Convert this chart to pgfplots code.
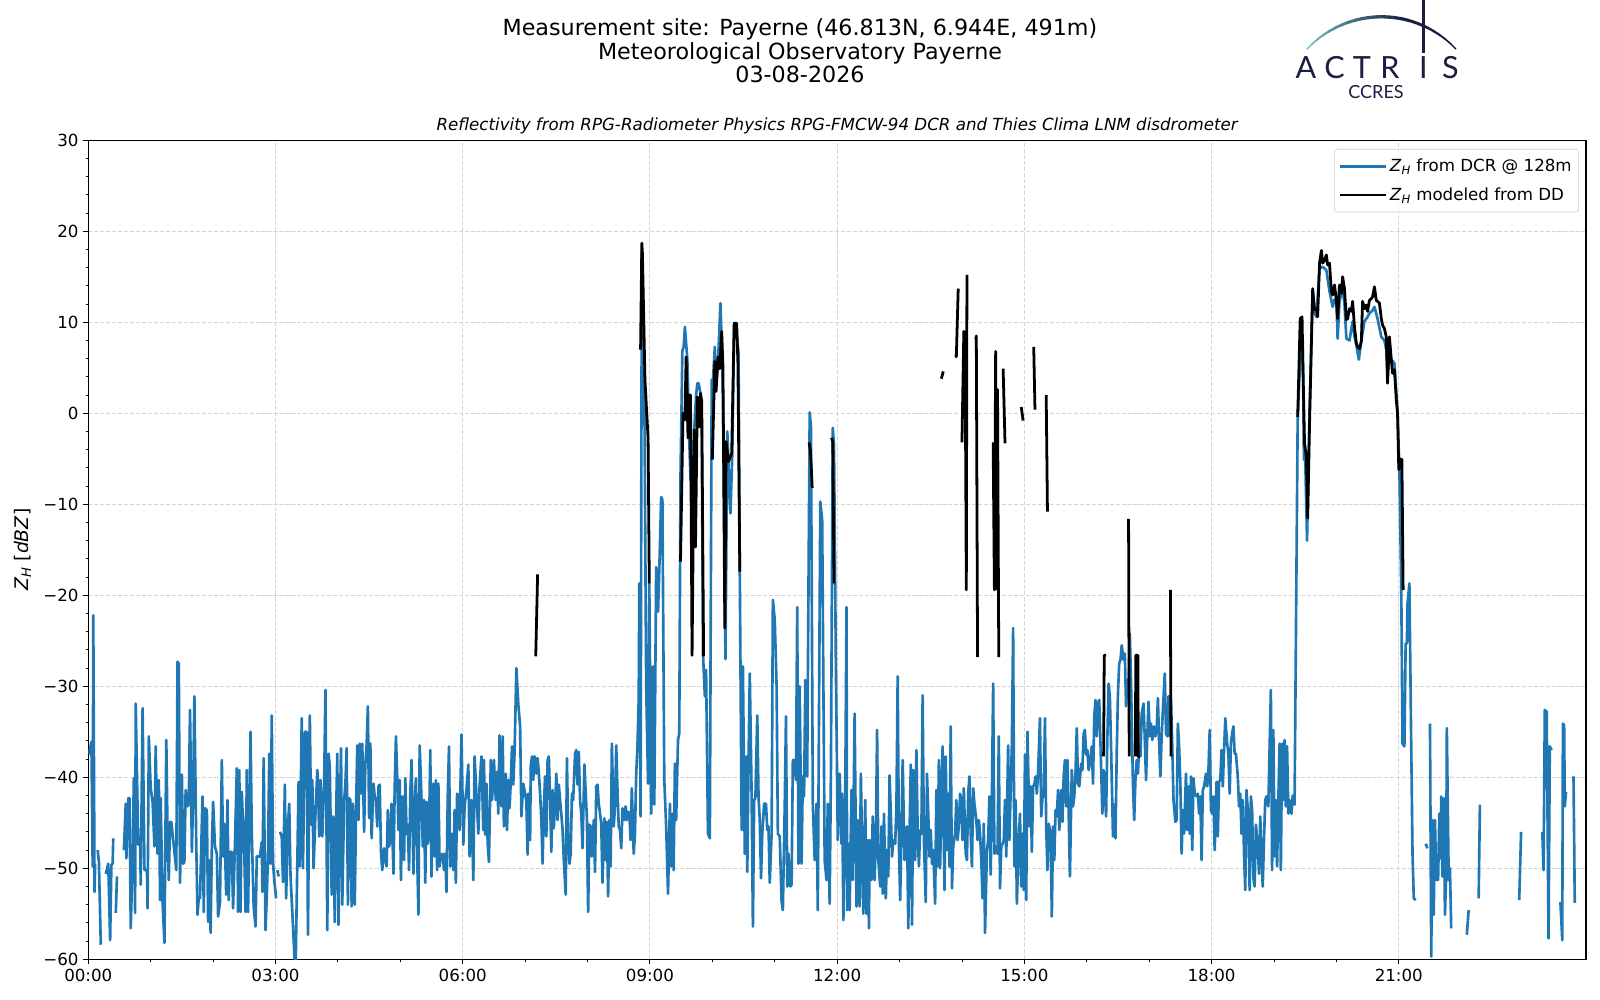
\documentclass[border=0pt]{standalone}
\usepackage{fontspec}
\setmainfont{DejaVu Sans}
\newfontfamily\logofont{Lato}
\usepackage{pgfplots}
\pgfplotsset{compat=1.18}
\definecolor{mplblue}{HTML}{1F77B4}
\definecolor{gridgray}{HTML}{D6D6D6}
\definecolor{logonavy}{HTML}{1B1D42}
\definecolor{logoteal}{HTML}{6CC3BC}
\begin{document}
\begin{tikzpicture}
\useasboundingbox (0,0) rectangle (16in,10in);
% titles
\node[align=center, font=\fontsize{16bp}{16.8bp}\selectfont] at (8in,9.49in)
 {Measurement site: Payerne (46.813N, 6.944E, 491m)\\Meteorological Observatory Payerne\\03-08-2026};
\node[font=\itshape\fontsize{12bp}{14bp}\selectfont] at (8.372in,8.743in)
 {Reflectivity from RPG-Radiometer Physics RPG-FMCW-94 DCR and Thies Clima LNM disdrometer};
% logo
\foreach \i in {0,...,23}{
  \pgfmathsetmacro\aa{137-\i*3.9}
  \pgfmathsetmacro\ab{\aa-4.2}
  \pgfmathsetmacro\mix{max(0,100-\i*100/15)}
  \pgfmathsetmacro\lw{0.9+1.5*sin(180*(\i+0.5)/24)}
  \draw[color=logoteal!\mix!logonavy, line width=\lw bp] (13.815in,8.812in) ++(\aa:1.02in) arc[start angle=\aa, end angle=\ab, radius=1.02in];
}
\draw[logonavy, line width=1.8bp] (14.233in,10in) -- (14.233in,9.47in);
\foreach \xx/\ll in {13.06/A,13.345/C,13.62/T,13.90/R,14.233/I,14.505/S}{
  \node[anchor=base, inner sep=0pt, text=logonavy, font=\logofont\fontsize{22bp}{22bp}\selectfont] at (\xx in,9.217in) {\ll};
}
\node[anchor=base, inner sep=0pt, text=logonavy, font=\logofont\fontsize{13bp}{13bp}\selectfont] at (13.76in,9.01in) {CCRES};
\begin{axis}[
  at={(0.883in,0.407in)}, anchor=south west,
  scale only axis, width=14.977in, height=8.19in,
  xmin=0, xmax=24, ymin=-60, ymax=30,
  axis line style={line width=0.8bp},
  tick align=outside, tick pos=left,
  major tick length=3.5bp, minor tick length=2bp,
  every tick/.style={black, line width=0.8bp},
  minor tick style={black, line width=0.6bp},
  xtick={0,3,6,9,12,15,18,21},
  xticklabels={00:00,03:00,06:00,09:00,12:00,15:00,18:00,21:00},
  minor x tick num=2,
  ytick={-60,-50,-40,-30,-20,-10,0,10,20,30},
  yticklabels={−60,−50,−40,−30,−20,−10,0,10,20,30},
  minor y tick num=4,
  grid=major,
  major grid style={gridgray, dash pattern=on 3bp off 1.3bp, line width=0.8bp},
  tick label style={font=\fontsize{12bp}{14bp}\selectfont},
  ylabel={\textit{Z}\textsubscript{\textit{H}} [\textit{dBZ}]},
  ylabel style={at={(axis description cs:-0.044,0.5)}, anchor=center, font=\fontsize{13.5bp}{15bp}\selectfont},
  legend style={at={(0.9953,0.9894)}, anchor=north east, draw=black!20, rounded corners=2bp,
     font=\fontsize{12bp}{14bp}\selectfont, fill=white, fill opacity=0.8, text opacity=1,
     row sep=6bp, inner xsep=3bp, inner ysep=5bp},
  legend cell align=left,
  legend image code/.code={\draw[#1] (0bp,0bp) -- (28bp,0bp); \path (0bp,0bp) -- (33bp,0bp);},
  unbounded coords=jump,
]
\addplot[mplblue, line width=1.9bp, line join=round] coordinates {
(0.01,-37.5)(0.05,-36.1)(0.07,-49.8)(0.08,-22.2)(0.10,-52.6)(0.11,-49.5)(0.13,nan)
(0.15,-48.0)(0.17,-49.3)(0.20,-58.4)(0.24,nan)
(0.28,-50.6)(0.32,-49.5)(0.35,-57.9)(0.37,-49.6)(0.39,-49.5)(0.40,-46.7)(0.42,nan)
(0.44,-54.9)(0.46,-50.9)(0.50,nan)
(0.57,-48.0)(0.60,-42.9)(0.61,-48.9)(0.64,-42.3)(0.66,-42.3)(0.68,-56.6)(0.71,-48.9)(0.73,-40.1)(0.75,-54.9)(0.76,-31.9)(0.80,-47.4)(0.83,-46.5)(0.84,-51.8)(0.87,-32.4)(0.90,-50.2)(0.94,-50.2)(0.95,-54.4)(0.97,-35.5)(1.00,-41.2)(1.03,-42.7)(1.06,-47.6)(1.08,-36.6)(1.11,-48.4)(1.13,-40.3)(1.15,-53.5)(1.16,-42.3)(1.19,-53.7)(1.22,-58.2)(1.25,-35.9)(1.27,-46.2)(1.29,-51.3)(1.31,-44.9)(1.33,-44.9)(1.41,-50.2)(1.43,-27.3)(1.45,-27.5)(1.47,-51.6)(1.50,-39.7)(1.52,-49.5)(1.54,-49.3)(1.56,-41.4)(1.59,-43.2)(1.61,-42.9)(1.63,-32.6)(1.66,-48.2)(1.68,-41.8)(1.70,-31.1)(1.73,-47.3)(1.75,-55.1)(1.77,-53.3)(1.79,-53.3)(1.83,-42.1)(1.85,-54.8)(1.87,-43.4)(1.90,-43.6)(1.92,-55.9)(1.94,-49.1)(1.96,-57.1)(1.98,-47.6)(2.00,-42.7)(2.03,-47.6)(2.06,-48.4)(2.08,-55.3)(2.11,-53.7)(2.14,-38.1)(2.16,-48.7)(2.18,-45.1)(2.21,-52.9)(2.23,-42.5)(2.25,-53.5)(2.27,-48.2)(2.30,-48.2)(2.32,-54.4)(2.35,-47.4)(2.38,-39.0)(2.40,-54.8)(2.42,-39.2)(2.44,-54.8)(2.46,-41.6)(2.47,-43.4)(2.49,-45.1)(2.52,-54.8)(2.54,-39.2)(2.56,-54.8)(2.58,-45.4)(2.60,-35.0)(2.62,-46.2)(2.65,-54.2)(2.68,-56.4)(2.70,-48.7)(2.72,-48.7)(2.75,-48.7)(2.78,-47.1)(2.79,-52.6)(2.81,-37.9)(2.84,-56.8)(2.86,-53.1)(2.88,-48.5)(2.90,-37.4)(2.92,-49.5)(2.94,-33.2)(2.96,-49.3)(2.98,-51.3)(3.01,-53.3)(3.02,nan)(3.03,-50.2)(3.05,-50.9)(3.06,nan)
(3.07,-46.0)(3.10,-46.5)(3.12,-51.5)(3.15,-40.8)(3.17,-53.3)(3.20,-45.1)(3.22,-42.9)(3.24,-50.7)(3.32,-62.0)(3.37,-40.5)(3.39,-49.8)(3.42,-33.5)(3.44,-50.0)(3.47,-35.0)(3.50,-35.0)(3.52,-57.3)(3.55,-33.2)(3.57,-45.2)(3.59,-40.3)(3.61,-50.0)(3.64,-44.0)(3.67,-39.2)(3.68,-40.3)(3.70,-46.5)(3.72,-40.3)(3.75,-46.5)(3.78,-40.3)(3.80,-30.4)(3.83,-56.8)(3.85,-37.4)(3.87,-38.8)(3.90,-52.9)(3.92,-44.3)(3.95,-55.9)(3.97,-44.5)(3.99,-37.4)(4.01,-56.2)(4.03,-44.5)(4.05,-36.8)(4.07,-54.0)(4.10,-42.5)(4.12,-40.7)(4.14,-36.8)(4.16,-54.0)(4.18,-42.3)(4.20,-42.5)(4.22,-54.2)(4.24,-42.9)(4.27,-54.0)(4.29,-44.0)(4.31,-36.5)(4.33,-44.7)(4.35,-36.3)(4.37,-41.8)(4.39,-36.3)(4.42,-46.0)(4.44,-38.5)(4.46,-36.5)(4.48,-32.2)(4.50,-44.5)(4.52,-36.3)(4.54,-46.7)(4.57,-40.7)(4.59,-42.1)(4.61,-42.5)(4.63,-45.4)(4.65,-41.0)(4.67,-40.8)(4.69,-48.2)(4.71,-50.2)(4.74,-47.8)(4.76,-49.1)(4.78,-49.8)(4.80,-43.6)(4.82,-47.6)(4.84,-46.9)(4.86,-42.9)(4.89,-50.6)(4.91,-41.0)(4.93,-35.5)(4.95,-39.9)(4.97,-45.8)(4.99,-40.3)(5.01,-51.3)(5.03,-42.1)(5.06,-49.1)(5.08,-40.1)(5.10,-46.2)(5.12,-45.2)(5.14,-50.2)(5.16,-41.8)(5.18,-38.1)(5.21,-50.6)(5.23,-42.9)(5.25,-40.1)(5.27,-48.4)(5.29,-55.1)(5.31,-36.5)(5.33,-40.3)(5.36,-47.6)(5.38,-42.5)(5.40,-51.6)(5.42,-42.7)(5.44,-47.3)(5.46,-46.2)(5.48,-37.0)(5.50,-50.9)(5.53,-40.7)(5.55,-48.7)(5.57,-40.3)(5.59,-50.2)(5.61,-40.7)(5.63,-49.8)(5.65,-48.7)(5.68,-48.4)(5.70,-50.2)(5.72,-48.4)(5.74,-52.6)(5.76,-42.1)(5.78,-36.6)(5.80,-49.8)(5.83,-46.2)(5.85,-50.2)(5.87,-43.6)(5.89,-51.6)(5.91,-41.8)(5.93,-42.1)(5.95,-45.8)(5.98,-35.3)(6.01,-47.4)(6.03,-43.2)(6.06,-41.4)(6.09,-38.6)(6.11,-48.7)(6.14,-42.5)(6.17,-51.3)(6.19,-37.7)(6.22,-41.9)(6.25,-46.2)
(6.27,-41.0)(6.30,-37.7)(6.33,-45.8)(6.34,-38.1)(6.36,-46.3)(6.38,-40.7)(6.40,-47.3)(6.42,-49.3)(6.45,-38.1)(6.47,-42.5)(6.50,-38.1)(6.53,-42.5)(6.55,-39.4)(6.57,-44.0)(6.59,-35.4)(6.62,-43.2)(6.64,-35.5)(6.66,-45.4)(6.69,-39.6)(6.71,-45.8)(6.73,-40.3)(6.75,-43.4)(6.77,-40.5)(6.79,-36.6)(6.81,-40.8)(6.83,-37.4)(6.86,-28.0)(6.89,-31.9)(6.92,-34.4)(6.94,-44.3)(6.97,-40.7)(7.00,-41.8)(7.02,-42.7)(7.04,-48.5)(7.05,-41.8)(7.08,-46.9)(7.09,-38.8)(7.11,-37.7)(7.13,-40.3)(7.15,-37.7)(7.17,-38.1)(7.18,-39.6)(7.20,-37.9)(7.22,-39.6)(7.24,-41.8)(7.26,-44.7)(7.28,-49.5)(7.30,-43.2)(7.32,-39.9)(7.34,-46.5)(7.36,-38.1)(7.38,-37.7)(7.40,-42.5)(7.42,-48.2)(7.44,-41.4)(7.46,-45.6)(7.49,-41.4)(7.50,-39.6)(7.52,-44.7)(7.54,-40.8)(7.56,-42.5)(7.58,-44.0)(7.60,-45.8)(7.62,-49.1)(7.65,-52.9)(7.67,-37.9)(7.69,-46.2)(7.71,-49.5)(7.73,-48.4)(7.75,-41.8)(7.77,-42.5)(7.80,-37.4)(7.82,-37.0)(7.84,-40.8)(7.86,-37.2)(7.88,-42.5)(7.90,-44.0)(7.92,-47.8)(7.95,-38.6)(7.97,-41.6)(7.99,-44.5)(8.01,-54.8)(8.03,-45.2)(8.05,-45.4)(8.07,-48.7)(8.10,-44.7)(8.12,-50.4)(8.14,-41.0)(8.16,-40.8)(8.18,-42.9)(8.20,-44.0)(8.22,-45.1)(8.24,-51.6)(8.27,-44.5)(8.29,-49.1)(8.31,-44.9)(8.33,-53.1)(8.35,-44.7)(8.37,-49.8)(8.39,-36.3)(8.42,-45.4)(8.44,-43.2)(8.46,-36.5)(8.48,-41.4)(8.50,-45.4)(8.52,-45.8)(8.54,-47.8)(8.56,-43.4)(8.59,-44.7)(8.61,-43.2)(8.63,-44.7)(8.65,-43.8)(8.67,-44.0)(8.69,-46.9)(8.71,-41.2)(8.74,-48.4)(8.76,-46.2)(8.78,-39.6)
(8.80,-36.6)(8.82,-31.5)(8.83,-18.7)(8.85,-44.3)(8.87,17.9)(8.89,5.9)(8.91,3.0)(8.94,-30.0)(8.97,-40.7)(8.99,-18.7)(9.02,-44.0)(9.05,-27.8)(9.07,-43.0)(9.10,-16.9)(9.13,-21.8)(9.15,-17.2)(9.18,-9.2)(9.20,-9.5)(9.23,-40.3)(9.26,-45.4)(9.29,-52.8)(9.32,-42.9)(9.34,-49.8)(9.36,-44.0)(9.38,-50.2)(9.40,-38.5)(9.42,-44.7)(9.45,-35.9)(9.47,-35.2)(9.49,-6.8)(9.52,6.9)(9.54,7.3)(9.56,9.5)(9.60,5.9)(9.63,-2.9)(9.65,-7.3)(9.67,-7.7)(9.69,-10.0)(9.71,-1.8)(9.74,2.0)(9.76,3.3)(9.78,3.3)(9.81,2.2)(9.83,-0.7)(9.85,-26.4)(9.88,-31.1)(9.90,-28.2)(9.93,-46.2)(9.96,-46.7)(9.99,3.7)(10.01,3.7)(10.04,7.3)(10.06,2.9)(10.09,5.5)(10.13,12.1)(10.16,5.5)(10.18,-2.9)(10.21,-27.0)(10.24,-2.0)(10.27,-7.7)(10.29,-11.0)(10.32,-4.4)(10.35,9.9)(10.38,9.5)(10.42,6.6)(10.44,-17.6)
(10.47,-45.8)(10.49,-27.8)(10.52,-48.4)(10.55,-37.7)(10.56,-50.4)(10.58,-38.1)(10.60,-28.6)(10.63,-42.1)(10.65,-56.4)(10.67,-42.5)(10.69,-42.3)(10.72,-33.2)(10.74,-42.1)(10.76,-44.7)(10.78,-51.1)(10.80,-46.2)(10.83,-42.9)(10.86,-42.9)(10.88,-45.8)(10.90,-45.4)(10.92,-51.6)(10.95,-46.2)(10.97,-20.5)(11.00,-22.7)(11.03,-30.0)(11.05,-46.2)(11.08,-46.5)(11.11,-53.7)(11.13,-54.6)(11.16,-43.2)(11.18,-33.3)(11.20,-52.0)(11.22,-48.4)(11.25,-52.0)(11.27,-51.8)(11.29,-38.1)(11.31,-38.1)(11.34,-40.3)(11.36,-21.3)(11.38,-49.5)(11.40,-30.0)(11.43,-49.5)(11.45,-39.9)(11.47,-42.1)(11.49,-29.3)(11.52,-39.9)(11.56,0.1)(11.58,-1.5)(11.61,-42.9)(11.64,-49.1)(11.67,-42.9)(11.69,-54.6)(11.73,-9.7)(11.76,-11.7)(11.80,-49.1)(11.83,-51.3)(11.85,-42.9)(11.88,-53.9)(11.90,-39.6)(11.93,-1.6)(11.95,-3.5)(11.98,-28.0)(12.01,-46.9)(12.04,-39.6)(12.07,-47.3)(12.08,-41.8)(12.10,-55.7)(12.13,-41.8)(12.15,-21.3)(12.16,-54.6)(12.19,-47.3)(12.20,-54.6)(12.23,-41.4)(12.25,-51.3)(12.28,-33.0)(12.31,-54.2)(12.33,-44.7)(12.36,-54.2)(12.38,-39.6)(12.40,-47.6)(12.42,-55.0)(12.45,-42.5)(12.47,-55.0)(12.49,-46.9)(12.51,-56.6)(12.52,-46.9)(12.55,-51.3)(12.57,-44.3)(12.60,-51.3)(12.62,-46.9)(12.64,-34.8)(12.66,-49.1)(12.69,-52.0)(12.71,-45.4)(12.73,-52.8)(12.75,-44.0)(12.78,-53.3)(12.80,-48.0)(12.82,-50.9)
(12.84,-39.8)(12.86,-44.0)(12.88,-48.7)(12.90,-46.9)(12.93,-47.3)(12.95,-43.2)(12.97,-28.9)(12.99,-47.6)(13.01,-53.5)(13.03,-46.2)(13.05,-38.1)(13.08,-49.1)(13.10,-45.8)(13.12,-45.4)(13.14,-56.6)(13.16,-46.2)(13.18,-38.6)(13.20,-56.2)(13.22,-39.2)(13.25,-49.1)(13.27,-37.0)(13.29,-45.8)(13.31,-49.8)(13.33,-45.8)(13.35,-46.2)(13.37,-31.0)(13.39,-46.9)(13.42,-53.7)(13.44,-39.6)(13.46,-44.0)(13.48,-48.7)(13.50,-45.8)(13.52,-49.5)(13.54,-48.0)(13.57,-53.9)(13.59,-41.4)(13.61,-49.8)(13.63,-38.1)(13.65,-50.0)(13.67,-42.5)(13.69,-36.6)(13.72,-52.4)(13.74,-37.7)(13.76,-48.0)(13.78,-41.8)(13.80,-49.8)(13.82,-34.4)(13.84,-52.2)(13.86,-47.6)(13.89,-46.2)(13.91,-42.5)(13.93,-46.9)(13.95,-45.4)(13.97,-41.8)(13.99,-42.5)(14.01,-46.9)(14.03,-41.2)(14.06,-48.4)(14.08,-49.1)(14.10,-41.8)(14.12,-39.9)(14.14,-46.2)(14.16,-49.8)(14.18,-41.2)(14.20,-42.9)(14.23,-44.7)(14.25,-46.9)(14.27,-44.7)(14.29,-46.2)(14.31,-49.1)(14.33,-53.3)(14.35,-45.1)(14.37,-57.1)(14.40,-48.0)(14.42,-46.9)(14.44,-42.1)(14.46,-50.7)(14.48,-42.1)(14.50,-29.7)(14.52,-48.4)(14.54,-47.6)(14.57,-48.4)(14.59,-35.5)(14.61,-52.2)(14.63,-47.6)(14.65,-47.3)(14.67,-46.9)(14.69,-42.5)(14.71,-48.7)(14.74,-36.5)(14.76,-46.9)(14.78,-41.8)(14.80,-36.3)(14.82,-23.6)(14.84,-49.8)(14.86,-42.5)(14.88,-53.9)(14.91,-46.9)(14.93,-44.0)(14.95,-52.0)(14.97,-46.2)(14.99,-52.4)(15.01,-37.5)(15.03,-53.5)(15.05,-35.0)(15.08,-45.4)(15.10,-41.0)(15.12,-48.2)(15.14,-41.0)(15.16,-40.8)(15.18,-39.9)(15.20,-41.8)(15.22,-39.4)(15.25,-33.5)(15.27,-44.3)(15.29,-42.3)(15.31,-41.9)(15.33,-33.5)(15.35,-45.4)(15.37,-50.2)(15.39,-45.1)(15.42,-46.2)(15.44,-55.3)(15.46,-45.4)(15.48,-49.1)(15.50,-43.6)(15.52,-44.3)(15.54,-41.4)(15.56,-45.8)(15.59,-41.4)(15.61,-44.9)(15.63,-39.9)(15.65,-38.1)(15.67,-43.2)(15.69,-38.1)(15.71,-43.8)(15.73,-50.9)(15.76,-39.2)(15.78,-43.2)(15.80,-42.1)(15.82,-39.4)(15.84,-34.6)(15.86,-40.7)(15.88,-41.0)(15.91,-38.5)(15.93,-39.2)(15.95,-35.2)(15.97,-34.8)(15.99,-37.5)(16.01,-37.0)(16.03,-39.2)(16.05,-38.5)(16.08,-36.6)(16.10,-40.7)(16.12,-33.3)(16.14,-31.5)(16.16,-35.5)(16.18,-31.9)(16.20,-31.5)(16.22,-36.3)(16.25,-44.0)(16.27,-39.2)(16.29,-41.8)(16.31,-44.3)(16.33,-35.7)(16.35,-29.7)(16.37,-31.1)(16.39,-36.8)(16.42,-46.5)(16.44,-43.0)(16.46,-46.7)(16.48,-37.4)(16.50,-30.8)(16.52,-27.5)(16.54,-27.1)(16.56,-25.5)(16.59,-27.1)(16.61,-26.4)(16.63,-32.2)(16.65,-29.3)(16.67,-31.1)(16.69,-24.2)(16.71,-29.7)(16.74,-40.7)(16.76,-44.7)(16.78,-40.3)(16.80,-38.1)(16.82,-39.6)(16.84,-36.6)(16.86,-37.7)(16.88,-33.0)(16.91,-31.9)(16.93,-35.9)(16.95,-40.3)(16.97,-35.5)(16.99,-31.7)(17.01,-35.5)(17.03,-34.1)(17.05,-35.9)(17.08,-34.4)(17.10,-35.5)(17.12,-34.8)(17.14,-31.3)(17.16,-36.3)(17.18,-39.9)(17.20,-35.5)(17.22,-32.6)(17.25,-28.6)(17.27,-35.2)(17.29,-35.5)(17.31,-31.1)(17.33,-35.5)(17.35,-31.5)(17.37,-36.6)(17.39,-42.5)(17.42,-44.9)(17.44,-44.7)(17.46,-34.1)(17.48,-36.6)(17.50,-40.7)(17.52,-48.4)(17.54,-43.6)(17.56,-46.2)(17.59,-39.6)(17.61,-45.8)(17.63,-41.0)(17.65,-46.2)(17.67,-39.9)(17.69,-48.0)(17.71,-40.1)(17.73,-41.8)(17.76,-42.1)(17.78,-41.8)(17.80,-44.0)(17.82,-42.1)(17.84,-49.1)(17.86,-41.4)(17.88,-41.0)(17.91,-39.6)(17.93,-41.0)(17.95,-39.2)(17.97,-34.8)(17.99,-43.6)(18.01,-44.0)(18.03,-42.1)(18.05,-48.0)(18.08,-40.5)(18.10,-46.5)(18.12,-40.5)(18.14,-40.3)(18.16,-37.0)(18.18,-41.0)(18.20,-37.0)(18.22,-33.5)(18.25,-36.3)(18.27,-37.4)(18.29,-41.8)(18.31,-36.3)(18.33,-35.2)(18.35,-34.4)(18.37,-37.4)(18.39,-37.4)(18.42,-39.9)(18.44,-43.2)(18.46,-41.8)(18.48,-46.2)(18.50,-42.5)(18.52,-48.4)(18.54,-52.4)(18.56,-41.4)(18.59,-44.7)(18.61,-52.4)(18.63,-42.1)(18.65,-43.6)(18.67,-51.1)(18.69,-52.0)(18.71,-45.2)(18.74,-47.6)(18.76,-50.6)(18.78,-44.3)(18.80,-48.4)(18.82,-52.0)(18.84,-46.9)(18.86,-42.5)(18.88,-42.1)(18.91,-43.2)(18.95,-30.4)(18.97,-50.2)(18.99,-34.8)(19.01,-48.7)(19.03,-42.5)(19.05,-49.8)(19.07,-42.5)(19.09,-36.3)(19.11,-50.2)(19.13,-36.3)(19.15,-42.5)(19.17,-35.9)(19.19,-43.2)(19.21,-36.6)(19.23,-44.0)(19.25,-42.5)(19.28,-44.0)(19.30,-42.0)(19.33,-43.0)
(19.38,-0.5)(19.435,8.4)(19.46,8.0)(19.48,-5.1)(19.50,-4.8)(19.53,-14.0)(19.57,0.0)(19.62,13.5)(19.65,11.0)(19.68,10.6)(19.73,15.9)(19.78,16.1)(19.84,15.7)(19.89,13.4)(19.94,11.7)(19.97,12.5)(20.00,12.3)(20.02,8.2)(20.05,12.3)(20.10,13.7)(20.13,12.0)(20.16,8.2)(20.21,8.0)(20.26,10.1)(20.29,8.5)(20.32,7.5)(20.36,5.9)(20.40,8.0)(20.45,10.1)(20.50,10.6)(20.53,11.0)(20.58,11.3)(20.61,11.7)(20.66,10.4)(20.72,8.4)(20.77,8.0)(20.80,7.0)(20.82,4.0)(20.85,6.5)(20.88,5.9)(20.93,5.5)(20.98,0.2)(21.01,-6.2)(21.04,-19.4)(21.06,-36.3)(21.09,-36.6)(21.11,-25.3)(21.13,-25.3)(21.14,-20.9)(21.17,-18.7)(21.20,-36.8)(21.22,-48.4)(21.24,-53.3)(21.27,-53.5)(21.30,nan)
(21.43,-47.3)(21.46,-47.8)(21.48,nan)
(21.50,-34.1)(21.52,-59.7)(21.54,-44.7)(21.56,-55.1)(21.58,-44.7)(21.60,-51.3)(21.61,-48.7)(21.63,-51.3)(21.65,-44.0)(21.67,-48.9)(21.68,-42.1)(21.70,-50.9)(21.72,-42.3)(21.74,-55.1)(21.76,-50.6)(21.77,-34.6)(21.80,-51.3)(21.82,-50.0)(21.84,-56.6)(21.86,nan)
(22.09,-57.3)(22.12,-54.6)(22.14,nan)
(22.28,-53.3)(22.30,-43.0)(22.32,nan)
(22.93,-53.5)(22.96,-46.0)(22.98,nan)
(23.30,-46.0)(23.32,-50.2)(23.34,-32.6)(23.37,-32.8)(23.40,-57.7)(23.42,-36.6)(23.45,-37.0)(23.47,nan)
(23.59,-53.7)(23.62,-57.9)(23.63,-34.1)(23.65,-34.3)(23.66,-43.2)(23.68,-41.6)(23.70,nan)
(23.80,-39.9)(23.82,-53.8)
};
\addlegendentry{\textit{Z}\textsubscript{\textit{H}} from DCR @ 128m}
\addplot[black, line width=2bp, line join=round] coordinates {
(7.17,-26.7)(7.20,-17.7)(7.22,nan)
(8.85,7.0)(8.87,18.7)(8.88,17.5)(8.92,3.7)(8.97,-2.7)(8.99,-18.7)(9.01,nan)
(9.49,-16.3)(9.53,0.0)(9.56,-0.7)(9.58,6.2)(9.61,-2.7)(9.63,2.0)(9.65,2.0)(9.675,-26.6)(9.71,-1.8)(9.73,-14.7)(9.76,1.8)(9.79,-1.5)(9.81,2.2)(9.83,1.3)(9.86,-26.7)(9.90,nan)
(10.00,-5.1)(10.04,5.7)(10.06,2.4)(10.09,6.2)(10.12,4.9)(10.15,9.0)(10.17,5.1)(10.20,-23.6)(10.22,-3.1)(10.26,-5.3)(10.31,-4.4)(10.35,9.9)(10.39,9.9)(10.41,5.5)(10.44,-17.4)(10.46,nan)
(11.55,-3.2)(11.57,-4.0)(11.58,-5.1)(11.60,-8.2)(11.62,nan)
(11.91,-2.7)(11.93,-3.1)(11.95,-18.7)(11.97,nan)
(13.67,3.8)(13.70,4.6)(13.72,nan)
(13.90,6.4)(13.91,6.2)(13.94,13.7)(13.96,nan)
(14.00,-3.2)(14.03,9.0)(14.05,8.5)(14.07,-19.4)(14.08,15.2)(14.10,nan)
(14.22,8.1)(14.23,8.5)(14.25,-26.8)(14.27,nan)
(14.50,-3.2)(14.52,-19.4)(14.54,6.8)(14.55,-19.3)(14.57,2.6)(14.59,-26.8)(14.61,nan)
(14.66,4.9)(14.69,-3.3)(14.71,nan)
(14.95,0.7)(14.98,-0.8)(15.00,nan)
(15.15,7.3)(15.17,0.4)(15.19,nan)
(15.35,2.0)(15.37,-10.8)(15.39,nan)
(16.27,-37.7)(16.28,-26.6)(16.31,-26.6)(16.33,nan)
(16.67,-11.6)(16.68,-37.7)(16.70,nan)
(16.78,-37.7)(16.785,-26.6)(16.82,-26.6)(16.825,-37.7)(16.85,-37.7)(16.87,nan)
(17.34,-19.4)(17.35,-37.7)(17.37,nan)
(19.38,-0.4)(19.42,10.4)(19.45,10.6)(19.46,6.6)(19.49,-3.3)(19.52,-4.8)(19.54,-11.5)(19.57,-1.1)(19.62,13.7)(19.65,11.4)(19.68,11.5)(19.70,10.6)(19.73,16.5)(19.76,17.9)(19.78,16.5)(19.81,16.8)(19.84,17.4)(19.86,16.3)(19.89,16.5)(19.92,13.4)(19.94,13.0)(19.97,14.1)(20.00,12.4)(20.02,10.4)(20.05,14.1)(20.08,13.2)(20.10,15.0)(20.13,13.7)(20.16,10.3)(20.18,10.4)(20.21,11.5)(20.24,11.2)(20.26,12.3)(20.29,9.5)(20.32,7.7)(20.34,7.3)(20.37,7.1)(20.40,7.9)(20.42,12.3)(20.45,11.5)(20.48,11.9)(20.50,11.2)(20.53,12.4)(20.56,12.6)(20.58,12.8)(20.61,13.9)(20.64,12.4)(20.66,12.3)(20.69,12.1)(20.72,10.4)(20.74,9.7)(20.77,9.3)(20.80,8.4)(20.82,3.3)(20.85,8.4)(20.88,5.9)(20.90,4.4)(20.93,4.8)(20.96,1.5)(20.98,0.0)(21.00,-6.2)(21.02,-5.0)(21.05,-5.1)(21.07,-19.4)
};
\addlegendentry{\textit{Z}\textsubscript{\textit{H}} modeled from DD}
\end{axis}
\end{tikzpicture}
\end{document}
